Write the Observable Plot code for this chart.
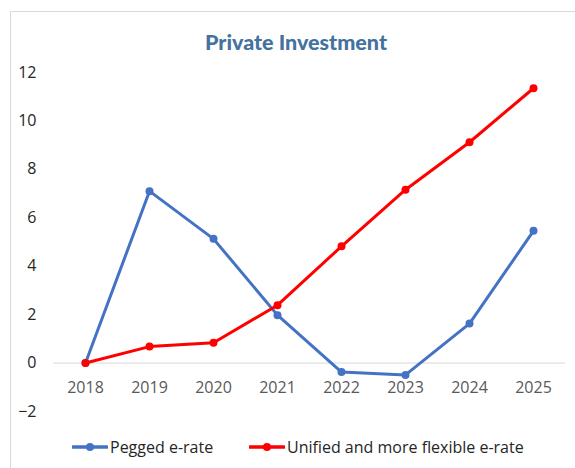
<!DOCTYPE html>
<html>
<head>
<meta charset="utf-8">
<script src="https://cdn.jsdelivr.net/npm/d3@7"></script>
<script src="https://cdn.jsdelivr.net/npm/@observablehq/plot@0.6"></script>
<style>
  html, body { margin: 0; padding: 0; background: #fff; }
  #wrap { position: relative; width: 575px; height: 468px; overflow: hidden; font-family: "Open Sans", sans-serif; }
  #frame { position: absolute; left: 10px; top: 11px; width: 700px; height: 600px; border: 1px solid #d9d9d9; box-sizing: border-box; }
  #title { position: absolute; left: 0; top: 27px; width: 592px; text-align: center; font-family: Lato, sans-serif; font-weight: 900; font-size: 21.5px; color: #44729f; line-height: 30px; }
  #chart { position: absolute; left: 0; top: 56px; }
  #legend { position: absolute; left: 0; top: 437px; width: 575px; height: 20px; font-size: 16px; color: #262626; }
  .item { position: absolute; top: 0; display: flex; align-items: center; height: 20px; }
  .item svg { margin-right: 2px; }
</style>
</head>
<body>
<div id="wrap">
  <div id="frame"></div>
  <div id="title">Private Investment</div>
  <div id="chart"></div>
  <div id="legend"></div>
</div>
<script>
const years = ["2018", "2019", "2020", "2021", "2022", "2023", "2024", "2025"];
const pegged = [0, 7.10, 5.13, 1.98, -0.37, -0.49, 1.63, 5.46];
const unified = [0, 0.68, 0.84, 2.39, 4.82, 7.16, 9.12, 11.35];
const seriesNames = ["Pegged e-rate", "Unified and more flexible e-rate"];
const seriesColors = ["#4472C4", "#FF0000"];
const yTicks = [-2, 0, 2, 4, 6, 8, 10, 12];

const rows = [];
[pegged, unified].forEach((vals, i) => {
  vals.forEach((v, j) => rows.push({series: seriesNames[i], year: years[j], value: v}));
});

const plot = Plot.plot({
  width: 575,
  height: 370,
  marginTop: 16,
  marginBottom: 15,
  marginLeft: 53,
  marginRight: 10,
  style: {fontFamily: "Open Sans, sans-serif", fontSize: "16px", background: "transparent", overflow: "visible"},
  x: {type: "point", domain: years, padding: 0.5, axis: null},
  y: {domain: [-2, 12], ticks: yTicks},
  color: {domain: seriesNames, range: seriesColors},
  marks: [
    Plot.ruleY([0], {stroke: "#d9d9d9", strokeWidth: 1}),
    Plot.axisY({ticks: yTicks, tickSize: 0, tickPadding: 17, fill: "#262626", label: null, fontSize: 16}),
    Plot.text(years, {x: d => d, y: () => 0, dy: 25, fill: "#595959", fontSize: 16}),
    Plot.line(rows, {x: "year", y: "value", z: "series", stroke: "series", strokeWidth: 3, strokeLinejoin: "round", strokeLinecap: "round"}),
    Plot.dot(rows, {x: "year", y: "value", fill: "series", r: 4, stroke: "none"})
  ]
});
document.getElementById("chart").appendChild(plot);

const legend = document.getElementById("legend");
const positions = [72, 249];
seriesNames.forEach((name, i) => {
  const item = document.createElement("div");
  item.className = "item";
  item.style.left = positions[i] + "px";
  item.innerHTML = `<svg width="36" height="10"><line x1="1" y1="5" x2="35" y2="5" stroke="${seriesColors[i]}" stroke-width="3.5" stroke-linecap="round"/><circle cx="18" cy="5" r="4" fill="${seriesColors[i]}"/></svg><span>${name}</span>`;
  legend.appendChild(item);
});
</script>
</body>
</html>
